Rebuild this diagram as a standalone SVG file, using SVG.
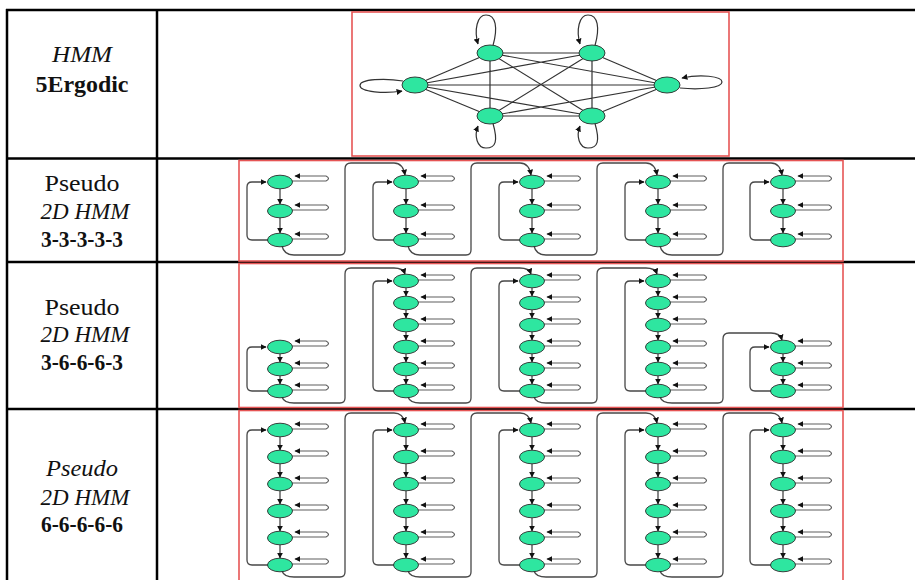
<svg xmlns="http://www.w3.org/2000/svg" xmlns:xlink="http://www.w3.org/1999/xlink" width="915" height="580" viewBox="0 0 915 580">
<style>
.grid{stroke:#000;stroke-width:2.5;fill:none}
.frame{fill:#fff;stroke:#e65555;stroke-width:1.6}
.nd{fill:#2ee6a0;stroke:#2a2a2a;stroke-width:0.9}
.e{stroke:#333;stroke-width:1.2;fill:none}
.c{stroke:#474747;stroke-width:1.3;fill:none}
.sl{stroke:#5e5e5e;stroke-width:1.2;fill:none}
.t{font-family:"Liberation Serif",serif;font-size:23px;fill:#111;text-anchor:middle}
.i{font-style:italic}
.b{font-weight:bold}
</style>
<defs>
<marker id="ah" viewBox="0 0 10 10" refX="9" refY="5" markerWidth="6" markerHeight="6" markerUnits="userSpaceOnUse" orient="auto"><path d="M0,0 L10,5 L0,10 z" fill="#111"/></marker>
<g id="st">
<path class="sl" d="M11,-1 L46,-1 Q51,-3.5 46,-6 L15,-6" marker-end="url(#ah)"/>
<ellipse class="nd" rx="12.5" ry="6.8"/>
</g>
</defs>
<rect width="915" height="580" fill="#fff"/>

<g id="table">
<path class="grid" d="M6,10 H915 M6,158.5 H915 M6,262 H915 M6,409 H915 M7,9 V580 M157,9 V580"/>
</g>

<g id="labels">
<text class="t i" x="82" y="62" textLength="60" lengthAdjust="spacingAndGlyphs">HMM</text>
<text class="t b" x="82" y="92" textLength="93" lengthAdjust="spacingAndGlyphs">5Ergodic</text>
<text class="t" x="82" y="191" textLength="75" lengthAdjust="spacingAndGlyphs">Pseudo</text>
<text class="t i" x="85" y="219">2D HMM</text>
<text class="t b" x="82" y="247" textLength="82" lengthAdjust="spacingAndGlyphs">3-3-3-3-3</text>
<text class="t" x="82" y="315" textLength="75" lengthAdjust="spacingAndGlyphs">Pseudo</text>
<text class="t i" x="85" y="342">2D HMM</text>
<text class="t b" x="82" y="370" textLength="82" lengthAdjust="spacingAndGlyphs">3-6-6-6-3</text>
<text class="t i" x="82" y="476" textLength="72" lengthAdjust="spacingAndGlyphs">Pseudo</text>
<text class="t i" x="85" y="505">2D HMM</text>
<text class="t b" x="82" y="532" textLength="82" lengthAdjust="spacingAndGlyphs">6-6-6-6-6</text>
</g>

<g id="frames">
<rect class="frame" x="352" y="12" width="377" height="144"/>
<rect class="frame" x="239" y="160.5" width="604" height="100.5"/>
<rect class="frame" x="239" y="263.5" width="604" height="144"/>
<rect class="frame" x="239" y="410.5" width="604" height="172"/>
</g>

<!-- Row 1: 6-state ergodic HMM -->
<g id="ergodic-connectors">
<path class="e" d="M415,85 L490,53 M415,85 L592,53 M415,85 L667,85 M415,85 L592,116 M415,85 L490,116 M490,53 L592,53 M490,53 L490,116 M490,53 L592,116 M490,53 L667,85 M592,53 L490,116 M592,53 L592,116 M592,53 L667,85 M490,116 L592,116 M490,116 L667,85 M592,116 L667,85"/>
<path class="e" d="M493,45.5 C498,28 496,15 486,15 C477,15 474,30 478,44" marker-end="url(#ah)"/>
<path class="e" d="M595,45.5 C600,28 598,15 588,15 C579,15 576,30 580,44" marker-end="url(#ah)"/>
<path class="e" d="M493,123.5 C498,141 496,148 486,148 C477,148 474,136 478,126" marker-end="url(#ah)"/>
<path class="e" d="M595,123.5 C600,141 598,148 588,148 C579,148 576,136 580,126" marker-end="url(#ah)"/>
<path class="e" d="M403,81 C385,78 360,79 360,85.5 C360,92 385,94 402,91" marker-end="url(#ah)"/>
<path class="e" d="M680,88 C700,90 722,88 722,82 C722,76 700,74 682,78" marker-end="url(#ah)"/>
</g>
<g id="ergodic-nodes">
<g id="e-left"><ellipse class="nd" cx="415" cy="85" rx="13" ry="8"/></g>
<g id="e-topleft"><ellipse class="nd" cx="490" cy="53" rx="13" ry="8"/></g>
<g id="e-topright"><ellipse class="nd" cx="592" cy="53" rx="13" ry="8"/></g>
<g id="e-right"><ellipse class="nd" cx="667" cy="85" rx="13" ry="8"/></g>
<g id="e-botleft"><ellipse class="nd" cx="490" cy="116" rx="13" ry="8"/></g>
<g id="e-botright"><ellipse class="nd" cx="592" cy="116" rx="13" ry="8"/></g>
</g>

<!-- Row 2: 3-3-3-3-3 -->
<g id="r2-connectors">
<path class="c" d="M280,189 V204" marker-end="url(#ah)"/><path class="c" d="M280,218 V233" marker-end="url(#ah)"/>
<path class="c" d="M406,189 V204" marker-end="url(#ah)"/><path class="c" d="M406,218 V233" marker-end="url(#ah)"/>
<path class="c" d="M532,189 V204" marker-end="url(#ah)"/><path class="c" d="M532,218 V233" marker-end="url(#ah)"/>
<path class="c" d="M658,189 V204" marker-end="url(#ah)"/><path class="c" d="M658,218 V233" marker-end="url(#ah)"/>
<path class="c" d="M783,189 V204" marker-end="url(#ah)"/><path class="c" d="M783,218 V233" marker-end="url(#ah)"/>
<path class="c" d="M268,240 H252 Q247,240 247,235 V187 Q247,182 252,182 H266" marker-end="url(#ah)"/>
<path class="c" d="M394,240 H378 Q373,240 373,235 V187 Q373,182 378,182 H392" marker-end="url(#ah)"/>
<path class="c" d="M520,240 H504 Q499,240 499,235 V187 Q499,182 504,182 H518" marker-end="url(#ah)"/>
<path class="c" d="M646,240 H630 Q625,240 625,235 V187 Q625,182 630,182 H644" marker-end="url(#ah)"/>
<path class="c" d="M771,240 H755 Q750,240 750,235 V187 Q750,182 755,182 H769" marker-end="url(#ah)"/>
<path class="c" d="M282,246 Q284,255 294,255 H340 Q345,255 345,250 V169 Q345,163 351,163 H394 Q403,163 405,175" marker-end="url(#ah)"/>
<path class="c" d="M408,246 Q410,255 420,255 H466 Q471,255 471,250 V169 Q471,163 477,163 H520 Q529,163 531,175" marker-end="url(#ah)"/>
<path class="c" d="M534,246 Q536,255 546,255 H592 Q597,255 597,250 V169 Q597,163 603,163 H646 Q655,163 657,175" marker-end="url(#ah)"/>
<path class="c" d="M660,246 Q662,255 672,255 H718 Q723,255 723,250 V169 Q723,163 729,163 H771 Q780,163 782,175" marker-end="url(#ah)"/>
</g>
<g id="r2-nodes">
<g id="r2c1"><use href="#st" x="280" y="182"/><use href="#st" x="280" y="211"/><use href="#st" x="280" y="240"/></g>
<g id="r2c2"><use href="#st" x="406" y="182"/><use href="#st" x="406" y="211"/><use href="#st" x="406" y="240"/></g>
<g id="r2c3"><use href="#st" x="532" y="182"/><use href="#st" x="532" y="211"/><use href="#st" x="532" y="240"/></g>
<g id="r2c4"><use href="#st" x="658" y="182"/><use href="#st" x="658" y="211"/><use href="#st" x="658" y="240"/></g>
<g id="r2c5"><use href="#st" x="783" y="182"/><use href="#st" x="783" y="211"/><use href="#st" x="783" y="240"/></g>
</g>

<!-- Row 3: 3-6-6-6-3 -->
<g id="r3-connectors">
<path class="c" d="M280,354 V362" marker-end="url(#ah)"/><path class="c" d="M280,376 V384" marker-end="url(#ah)"/>
<path class="c" d="M783,354 V362" marker-end="url(#ah)"/><path class="c" d="M783,376 V384" marker-end="url(#ah)"/>
<path class="c" d="M406,288 V296" marker-end="url(#ah)"/><path class="c" d="M406,310 V318" marker-end="url(#ah)"/><path class="c" d="M406,332 V340" marker-end="url(#ah)"/><path class="c" d="M406,354 V362" marker-end="url(#ah)"/><path class="c" d="M406,376 V384" marker-end="url(#ah)"/>
<path class="c" d="M532,288 V296" marker-end="url(#ah)"/><path class="c" d="M532,310 V318" marker-end="url(#ah)"/><path class="c" d="M532,332 V340" marker-end="url(#ah)"/><path class="c" d="M532,354 V362" marker-end="url(#ah)"/><path class="c" d="M532,376 V384" marker-end="url(#ah)"/>
<path class="c" d="M658,288 V296" marker-end="url(#ah)"/><path class="c" d="M658,310 V318" marker-end="url(#ah)"/><path class="c" d="M658,332 V340" marker-end="url(#ah)"/><path class="c" d="M658,354 V362" marker-end="url(#ah)"/><path class="c" d="M658,376 V384" marker-end="url(#ah)"/>
<path class="c" d="M268,391 H252 Q247,391 247,386 V352 Q247,347 252,347 H266" marker-end="url(#ah)"/>
<path class="c" d="M394,391 H378 Q373,391 373,386 V286 Q373,281 378,281 H392" marker-end="url(#ah)"/>
<path class="c" d="M520,391 H504 Q499,391 499,386 V286 Q499,281 504,281 H518" marker-end="url(#ah)"/>
<path class="c" d="M646,391 H630 Q625,391 625,386 V286 Q625,281 630,281 H644" marker-end="url(#ah)"/>
<path class="c" d="M771,391 H755 Q750,391 750,386 V352 Q750,347 755,347 H769" marker-end="url(#ah)"/>
<path class="c" d="M282,397 Q284,403 294,403 H340 Q345,403 345,398 V274 Q345,268 351,268 H394 Q403,268 405,274" marker-end="url(#ah)"/>
<path class="c" d="M408,397 Q410,403 420,403 H466 Q471,403 471,398 V274 Q471,268 477,268 H520 Q529,268 531,274" marker-end="url(#ah)"/>
<path class="c" d="M534,397 Q536,403 546,403 H592 Q597,403 597,398 V274 Q597,268 603,268 H646 Q655,268 657,274" marker-end="url(#ah)"/>
<path class="c" d="M660,397 Q662,403 672,403 H718 Q723,403 723,398 V339 Q723,333 729,333 H771 Q780,333 782,340" marker-end="url(#ah)"/>
</g>
<g id="r3-nodes">
<g id="r3c1"><use href="#st" x="280" y="347"/><use href="#st" x="280" y="369"/><use href="#st" x="280" y="391"/></g>
<g id="r3c2"><use href="#st" x="406" y="281"/><use href="#st" x="406" y="303"/><use href="#st" x="406" y="325"/><use href="#st" x="406" y="347"/><use href="#st" x="406" y="369"/><use href="#st" x="406" y="391"/></g>
<g id="r3c3"><use href="#st" x="532" y="281"/><use href="#st" x="532" y="303"/><use href="#st" x="532" y="325"/><use href="#st" x="532" y="347"/><use href="#st" x="532" y="369"/><use href="#st" x="532" y="391"/></g>
<g id="r3c4"><use href="#st" x="658" y="281"/><use href="#st" x="658" y="303"/><use href="#st" x="658" y="325"/><use href="#st" x="658" y="347"/><use href="#st" x="658" y="369"/><use href="#st" x="658" y="391"/></g>
<g id="r3c5"><use href="#st" x="783" y="347"/><use href="#st" x="783" y="369"/><use href="#st" x="783" y="391"/></g>
</g>

<!-- Row 4: 6-6-6-6-6 -->
<g id="r4-connectors">
<path class="c" d="M280,437 V450" marker-end="url(#ah)"/><path class="c" d="M280,464 V477" marker-end="url(#ah)"/><path class="c" d="M280,491 V504" marker-end="url(#ah)"/><path class="c" d="M280,518 V531" marker-end="url(#ah)"/><path class="c" d="M280,545 V558" marker-end="url(#ah)"/>
<path class="c" d="M406,437 V450" marker-end="url(#ah)"/><path class="c" d="M406,464 V477" marker-end="url(#ah)"/><path class="c" d="M406,491 V504" marker-end="url(#ah)"/><path class="c" d="M406,518 V531" marker-end="url(#ah)"/><path class="c" d="M406,545 V558" marker-end="url(#ah)"/>
<path class="c" d="M532,437 V450" marker-end="url(#ah)"/><path class="c" d="M532,464 V477" marker-end="url(#ah)"/><path class="c" d="M532,491 V504" marker-end="url(#ah)"/><path class="c" d="M532,518 V531" marker-end="url(#ah)"/><path class="c" d="M532,545 V558" marker-end="url(#ah)"/>
<path class="c" d="M658,437 V450" marker-end="url(#ah)"/><path class="c" d="M658,464 V477" marker-end="url(#ah)"/><path class="c" d="M658,491 V504" marker-end="url(#ah)"/><path class="c" d="M658,518 V531" marker-end="url(#ah)"/><path class="c" d="M658,545 V558" marker-end="url(#ah)"/>
<path class="c" d="M783,437 V450" marker-end="url(#ah)"/><path class="c" d="M783,464 V477" marker-end="url(#ah)"/><path class="c" d="M783,491 V504" marker-end="url(#ah)"/><path class="c" d="M783,518 V531" marker-end="url(#ah)"/><path class="c" d="M783,545 V558" marker-end="url(#ah)"/>
<path class="c" d="M268,565 H252 Q247,565 247,560 V435 Q247,430 252,430 H266" marker-end="url(#ah)"/>
<path class="c" d="M394,565 H378 Q373,565 373,560 V435 Q373,430 378,430 H392" marker-end="url(#ah)"/>
<path class="c" d="M520,565 H504 Q499,565 499,560 V435 Q499,430 504,430 H518" marker-end="url(#ah)"/>
<path class="c" d="M646,565 H630 Q625,565 625,560 V435 Q625,430 630,430 H644" marker-end="url(#ah)"/>
<path class="c" d="M771,565 H755 Q750,565 750,560 V435 Q750,430 755,430 H769" marker-end="url(#ah)"/>
<path class="c" d="M282,571 Q284,577 294,577 H340 Q345,577 345,572 V419 Q345,413 351,413 H394 Q403,413 405,423" marker-end="url(#ah)"/>
<path class="c" d="M408,571 Q410,577 420,577 H466 Q471,577 471,572 V419 Q471,413 477,413 H520 Q529,413 531,423" marker-end="url(#ah)"/>
<path class="c" d="M534,571 Q536,577 546,577 H592 Q597,577 597,572 V419 Q597,413 603,413 H646 Q655,413 657,423" marker-end="url(#ah)"/>
<path class="c" d="M660,571 Q662,577 672,577 H718 Q723,577 723,572 V419 Q723,413 729,413 H771 Q780,413 782,423" marker-end="url(#ah)"/>
</g>
<g id="r4-nodes">
<g id="r4c1"><use href="#st" x="280" y="430"/><use href="#st" x="280" y="457"/><use href="#st" x="280" y="484"/><use href="#st" x="280" y="511"/><use href="#st" x="280" y="538"/><use href="#st" x="280" y="565"/></g>
<g id="r4c2"><use href="#st" x="406" y="430"/><use href="#st" x="406" y="457"/><use href="#st" x="406" y="484"/><use href="#st" x="406" y="511"/><use href="#st" x="406" y="538"/><use href="#st" x="406" y="565"/></g>
<g id="r4c3"><use href="#st" x="532" y="430"/><use href="#st" x="532" y="457"/><use href="#st" x="532" y="484"/><use href="#st" x="532" y="511"/><use href="#st" x="532" y="538"/><use href="#st" x="532" y="565"/></g>
<g id="r4c4"><use href="#st" x="658" y="430"/><use href="#st" x="658" y="457"/><use href="#st" x="658" y="484"/><use href="#st" x="658" y="511"/><use href="#st" x="658" y="538"/><use href="#st" x="658" y="565"/></g>
<g id="r4c5"><use href="#st" x="783" y="430"/><use href="#st" x="783" y="457"/><use href="#st" x="783" y="484"/><use href="#st" x="783" y="511"/><use href="#st" x="783" y="538"/><use href="#st" x="783" y="565"/></g>
</g>
</svg>
